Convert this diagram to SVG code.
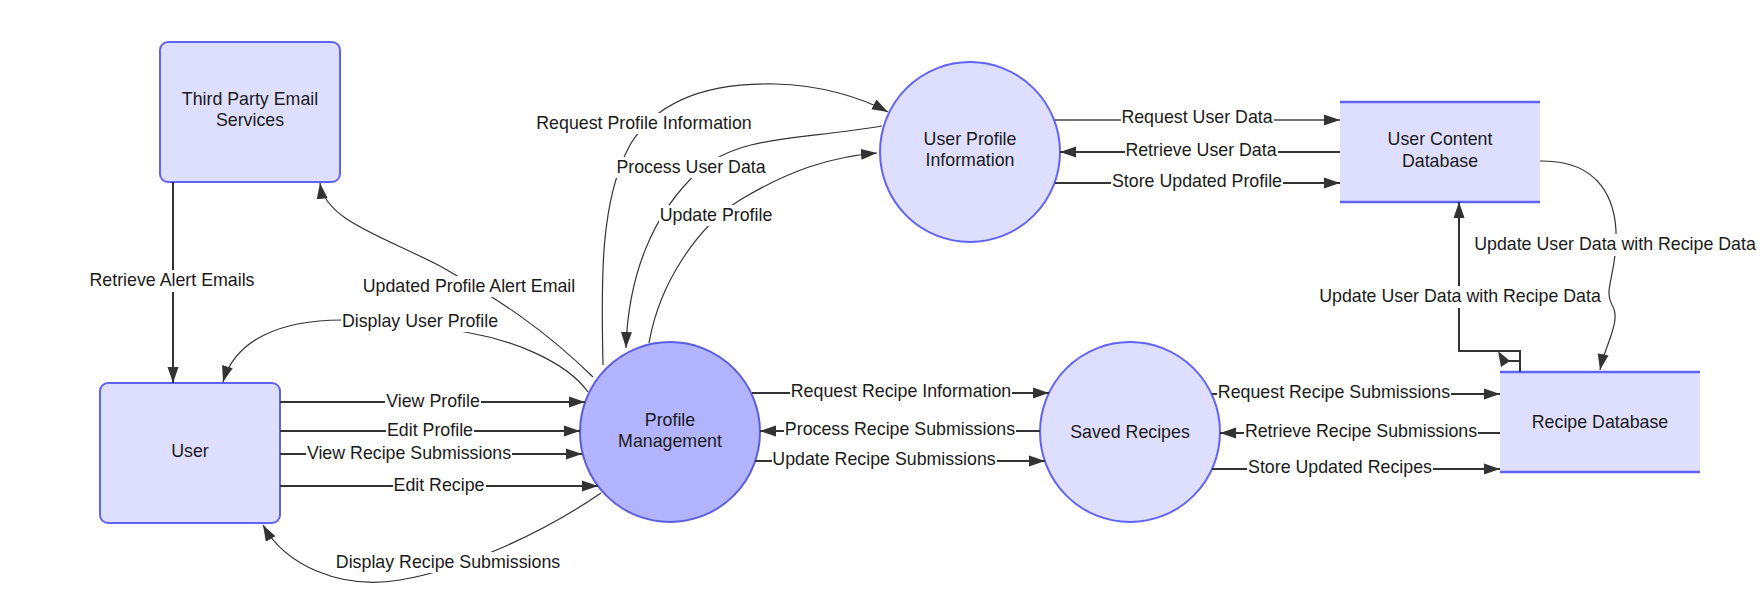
<svg xmlns="http://www.w3.org/2000/svg" width="1760" height="601" viewBox="0 0 1760 601">
<style>
text{font-family:"Liberation Sans",Arial,sans-serif;font-size:17.8px;fill:#1a1a1a;text-anchor:middle}
.bg{fill:#fff}
.box{fill:#dedfff;stroke:#6063f5;stroke-width:2}
.proc{fill:#dedfff;stroke:#6063f5;stroke-width:2}
.pm{fill:#b2b4ff;stroke:#5a5de0;stroke-width:2}
.store{fill:#dedfff}
.storeline{stroke:#6063f5;stroke-width:2.5}
.thick{fill:none;stroke:#333;stroke-width:2;marker-end:url(#ah)}
.mid{fill:none;stroke:#444;stroke-width:1.4;marker-end:url(#ah)}
.thin{fill:none;stroke:#333;stroke-width:1.2;marker-end:url(#ah)}
</style>
<defs>
<marker id="ah" markerUnits="userSpaceOnUse" markerWidth="17" markerHeight="12" refX="16" refY="6" orient="auto">
<path d="M0,0.5 L16,6 L0,11.5 z" fill="#333"/>
</marker>
</defs>
<rect width="1760" height="601" fill="#fff"/>

<g id="node-third-party">
<rect class="box" x="160" y="42" width="180" height="140" rx="8"/>
<text x="250" y="105">Third Party Email</text>
<text x="250" y="126">Services</text>
</g>
<g id="node-user">
<rect class="box" x="100" y="383" width="180" height="140" rx="8"/>
<text x="190" y="457">User</text>
</g>
<g id="node-profile-management">
<circle class="pm" cx="670" cy="432" r="90"/>
<text x="670" y="426">Profile</text>
<text x="670" y="447">Management</text>
</g>
<g id="node-user-profile-info">
<circle class="proc" cx="970" cy="152" r="90"/>
<text x="970" y="145">User Profile</text>
<text x="970" y="166">Information</text>
</g>
<g id="node-user-content-db">
<rect class="store" x="1340" y="102" width="200" height="100"/>
<line class="storeline" x1="1340" y1="102" x2="1540" y2="102"/>
<line class="storeline" x1="1340" y1="202" x2="1540" y2="202"/>
<text x="1440" y="145">User Content</text>
<text x="1440" y="167">Database</text>
</g>
<g id="node-saved-recipes">
<circle class="proc" cx="1130" cy="432" r="90"/>
<text x="1130" y="438">Saved Recipes</text>
</g>
<g id="node-recipe-db">
<rect class="store" x="1500" y="372" width="200" height="100"/>
<line class="storeline" x1="1500" y1="372" x2="1700" y2="372"/>
<line class="storeline" x1="1500" y1="472" x2="1700" y2="472"/>
<text x="1600" y="428">Recipe Database</text>
</g>

<g id="connectors">
<path class="thick" d="M173,182 V383"/>
<rect class="bg" x="88" y="270" width="168" height="22"/>
<text x="172" y="286">Retrieve Alert Emails</text>

<path class="thick" d="M280,402 H585"/>
<rect class="bg" x="385" y="392" width="96" height="20"/>
<text x="433" y="407">View Profile</text>
<path class="thick" d="M280,431 H580"/>
<rect class="bg" x="386" y="421" width="88" height="20"/>
<text x="430" y="436">Edit Profile</text>
<path class="thick" d="M280,454 H582"/>
<rect class="bg" x="306" y="444" width="206" height="20"/>
<text x="409" y="459">View Recipe Submissions</text>
<path class="thick" d="M280,486 H598"/>
<rect class="bg" x="393" y="476" width="93" height="20"/>
<text x="439" y="491">Edit Recipe</text>

<path class="mid" d="M1055,120 H1340"/>
<rect class="bg" x="1121" y="108" width="153" height="20"/>
<text x="1197" y="123">Request User Data</text>
<path class="thick" d="M1340,152 H1060"/>
<rect class="bg" x="1125" y="141" width="153" height="20"/>
<text x="1201" y="156">Retrieve User Data</text>
<path class="thick" d="M1055,183 H1340"/>
<rect class="bg" x="1111" y="172" width="172" height="20"/>
<text x="1197" y="187">Store Updated Profile</text>

<path class="thick" d="M752,393 H1049"/>
<rect class="bg" x="790" y="382" width="222" height="20"/>
<text x="901" y="397">Request Recipe Information</text>
<path class="thick" d="M1040,431 H760"/>
<rect class="bg" x="784" y="420" width="232" height="20"/>
<text x="900" y="435">Process Recipe Submissions</text>
<path class="thick" d="M755,461 H1045"/>
<rect class="bg" x="772" y="450" width="225" height="20"/>
<text x="884" y="465">Update Recipe Submissions</text>

<path class="thick" d="M1212,394 H1500"/>
<rect class="bg" x="1217" y="383" width="234" height="20"/>
<text x="1334" y="398">Request Recipe Submissions</text>
<path class="thick" d="M1500,433 H1220"/>
<rect class="bg" x="1244" y="422" width="234" height="20"/>
<text x="1361" y="437">Retrieve Recipe Submissions</text>
<path class="thick" d="M1212,469 H1500"/>
<rect class="bg" x="1247" y="458" width="186" height="20"/>
<text x="1340" y="473">Store Updated Recipes</text>

<path class="thick" d="M1520,372 V351 H1459 V202"/>
<path d="M1520,361 H1508" fill="none" stroke="#333" stroke-width="2"/>
<path d="M1498,351 L1501,367 L1510,361 z" fill="#333"/>
<rect class="bg" x="1318" y="286" width="284" height="22"/>
<text x="1460" y="302">Update User Data with Recipe Data</text>

<path class="thin" d="M1540,161 C1600,160 1618,200 1616,244 C1614,280 1604,290 1612,305 C1622,320 1605,345 1600,370"/>
<rect class="bg" x="1473" y="234" width="284" height="22"/>
<text x="1615" y="250">Update User Data with Recipe Data</text>

<path class="thin" d="M588,392 C565,360 510,340 470,333 C420,322 380,320 342,320 C280,320 235,340 223,382"/>
<rect class="bg" x="341" y="311" width="158" height="21"/>
<text x="420" y="327">Display User Profile</text>

<path class="thin" d="M593,377 C545,330 500,300 440,266 C380,235 325,220 320,183"/>
<rect class="bg" x="361" y="276" width="216" height="21"/>
<text x="469" y="292">Updated Profile Alert Email</text>

<path class="thin" d="M603,365 C601,280 600,200 630,145 C660,95 720,83 775,84 C820,85 860,97 888,112"/>
<rect class="bg" x="535" y="113" width="218" height="21"/>
<text x="644" y="129">Request Profile Information</text>

<path class="thin" d="M882,126 C800,140 740,135 700,170 C650,215 628,280 626,348"/>
<rect class="bg" x="616" y="157" width="151" height="21"/>
<text x="691" y="173">Process User Data</text>

<path class="thin" d="M649,343 C660,280 700,225 740,200 C790,170 830,157 877,153"/>
<rect class="bg" x="659" y="205" width="115" height="21"/>
<text x="716" y="221">Update Profile</text>

<path class="thin" d="M601,493 C540,535 460,570 400,580 C340,590 285,565 263,525"/>
<rect class="bg" x="335" y="552" width="226" height="21"/>
<text x="448" y="568">Display Recipe Submissions</text>
</g>
</svg>
